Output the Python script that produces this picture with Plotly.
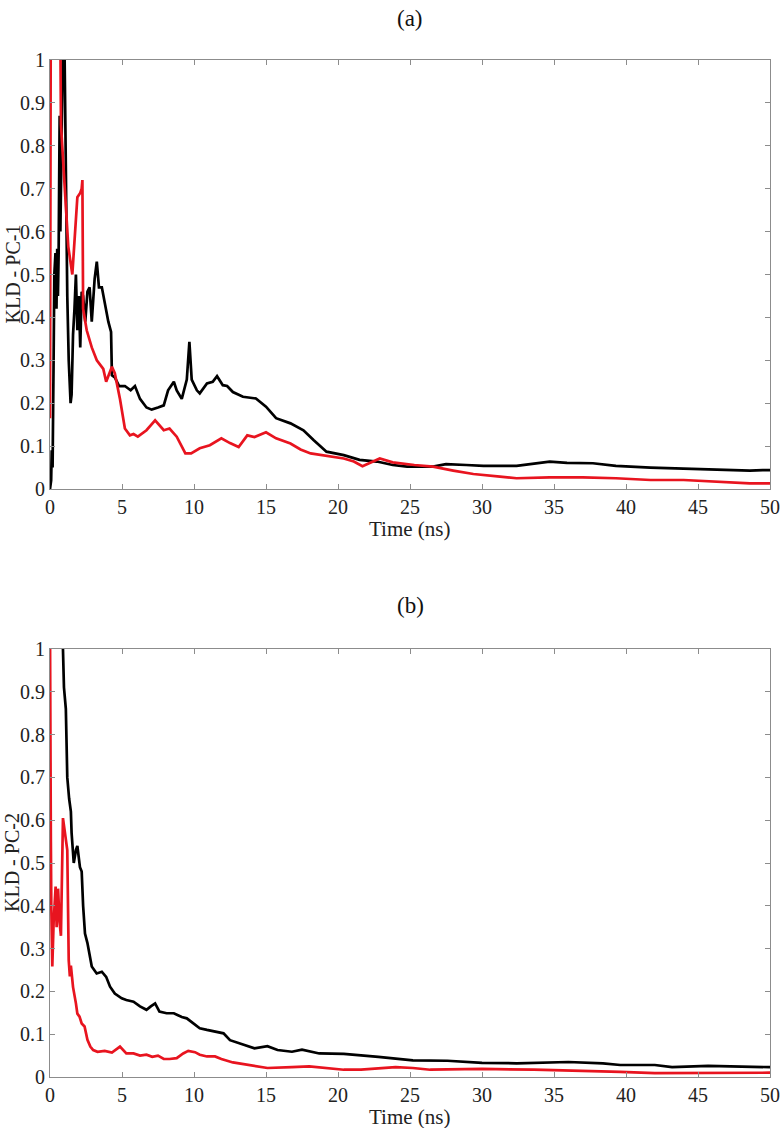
import plotly.graph_objects as go

# Panel (a): KLD - PC-1
a_black_t = [0, 0.08, 0.12, 0.18, 0.25, 0.3, 0.38, 0.45, 0.5, 0.55, 0.6, 0.67, 0.72, 0.8, 0.9, 1.0, 1.1,
             1.2, 1.3, 1.43, 1.5, 1.6, 1.7, 1.8, 1.9, 2.0, 2.1, 2.2, 2.3, 2.45, 2.6, 2.75, 2.9, 3.0, 3.1,
             3.25, 3.4, 3.6, 3.8, 4.05, 4.24, 4.3, 4.5, 4.8, 5.2, 5.6, 5.9, 6.25, 6.7, 7.06, 7.5, 7.9,
             8.2, 8.6, 8.8, 9.15, 9.5, 9.68, 9.84, 10.2, 10.4, 10.9, 11.3, 11.6, 12.0, 12.3, 12.7, 13.4,
             14.3, 15.0, 15.7, 16.7, 17.6, 18.3, 19.2, 20.4, 21.5, 22.7, 23.8, 24.8, 26.6, 27.5, 28.9,
             30.1, 31.25, 32.4, 34.7, 35.9, 37.7, 39.3, 41.7, 44.0, 46.3, 48.6, 49.5, 50]
a_black_v = [0.0, 0.02, 0.09, 0.05, 0.3, 0.5, 0.55, 0.42, 0.56, 0.45, 0.55, 0.87, 0.6, 0.8, 1.05, 1.05, 0.7,
             0.45, 0.3, 0.2, 0.22, 0.36, 0.42, 0.5, 0.37, 0.45, 0.33, 0.46, 0.45, 0.39, 0.46, 0.47, 0.39,
             0.45, 0.49, 0.53, 0.47, 0.47, 0.43, 0.39, 0.366, 0.265, 0.26, 0.24, 0.24, 0.23, 0.24, 0.21,
             0.19, 0.185, 0.19, 0.195, 0.23, 0.25, 0.23, 0.21, 0.255, 0.343, 0.255, 0.23, 0.223, 0.246,
             0.25, 0.263, 0.242, 0.24, 0.226, 0.215, 0.211, 0.192, 0.165, 0.153, 0.137, 0.114, 0.087,
             0.079, 0.068, 0.064, 0.056, 0.052, 0.052, 0.058, 0.056, 0.054, 0.054, 0.054, 0.064, 0.061,
             0.06, 0.054, 0.05, 0.048, 0.046, 0.043, 0.044, 0.044]

a_red_t = [0, 0.02, 0.05, 0.4, 0.72, 0.76, 0.85, 1.0, 1.27, 1.55, 1.7, 1.9, 2.1, 2.2, 2.25, 2.3, 2.55,
           2.9, 3.25, 3.5, 3.7, 3.9, 4.3, 4.5, 4.86, 5.2, 5.55, 5.8, 6.1, 6.7, 7.3, 7.9, 8.3, 8.8, 9.4,
           9.8, 10.4, 11.1, 11.9, 12.5, 13.1, 13.7, 14.2, 15.0, 15.7, 16.7, 17.4, 18.1, 19.0, 20.4, 21.1,
           21.7, 22.9, 23.8, 25.3, 26.6, 28.0, 29.4, 31.25, 32.4, 34.7, 37.0, 39.3, 41.7, 44.0, 46.3,
           48.6, 50]
a_red_v = [0.165, 0.5, 1.05, 1.1, 1.05, 0.85, 0.8, 0.72, 0.565, 0.5, 0.57, 0.68, 0.69, 0.7, 0.72, 0.42,
           0.37, 0.33, 0.3, 0.29, 0.28, 0.25, 0.285, 0.27, 0.21, 0.141, 0.125, 0.128, 0.122, 0.137, 0.16,
           0.137, 0.141, 0.122, 0.083, 0.083, 0.095, 0.102, 0.118, 0.107, 0.098, 0.125, 0.121, 0.132,
           0.118, 0.106, 0.092, 0.083, 0.079, 0.071, 0.064, 0.053, 0.071, 0.062, 0.056, 0.052, 0.043,
           0.035, 0.029, 0.025, 0.027, 0.027, 0.025, 0.021, 0.021, 0.017, 0.013, 0.013]

# Panel (b): KLD - PC-2
b_black_t = [0.9, 0.97, 1.1, 1.16, 1.2, 1.33, 1.45, 1.5, 1.65, 1.8, 1.9, 2.08, 2.2, 2.3, 2.43, 2.6, 2.73,
             2.9, 3.24, 3.6, 3.9, 4.17, 4.5, 4.98, 5.3, 5.8, 6.25, 6.7, 7.0, 7.3, 7.6, 8.1, 8.6, 9.15,
             9.5, 9.95, 10.4, 10.9, 11.6, 12.05, 12.5, 13.2, 14.2, 15.1, 15.8, 16.8, 17.5, 18.7, 20.4,
             22.8, 25.2, 27.6, 30.0, 32.4, 36.0, 38.4, 39.6, 42.0, 43.2, 45.7, 48.1, 50]
b_black_v = [1.0, 0.91, 0.86, 0.78, 0.7, 0.65, 0.62, 0.57, 0.5, 0.53, 0.54, 0.49, 0.48, 0.40, 0.335,
             0.313, 0.29, 0.258, 0.242, 0.246, 0.234, 0.211, 0.195, 0.184, 0.18, 0.176, 0.165, 0.157,
             0.165, 0.172, 0.153, 0.149, 0.149, 0.14, 0.137, 0.125, 0.114, 0.11, 0.106, 0.102, 0.086,
             0.078, 0.067, 0.072, 0.063, 0.059, 0.064, 0.055, 0.054, 0.047, 0.039, 0.038, 0.033, 0.032,
             0.035, 0.032, 0.028, 0.028, 0.023, 0.026, 0.025, 0.023]

b_red_t = [0, 0.02, 0.04, 0.06, 0.09, 0.16, 0.25, 0.39, 0.46, 0.56, 0.67, 0.76, 0.9, 1.1, 1.2, 1.3,
           1.38, 1.45, 1.6, 1.8, 1.9, 2.05, 2.2, 2.4, 2.6, 2.8, 3.0, 3.3, 3.8, 4.3, 4.86, 5.3, 5.8,
           6.25, 6.7, 7.1, 7.5, 7.9, 8.3, 8.8, 9.25, 9.6, 10.07, 10.4, 10.9, 11.46, 11.9, 12.7, 13.7,
           14.6, 15.1, 16.8, 18.0, 20.4, 21.6, 24.0, 25.2, 26.4, 30.0, 33.6, 37.2, 39.6, 42.0, 45.7, 50]
b_red_v = [1.05, 0.69, 0.647, 0.55, 0.4, 0.258, 0.36, 0.445, 0.35, 0.44, 0.36, 0.33, 0.605, 0.558,
           0.53, 0.273, 0.235, 0.26, 0.21, 0.172, 0.148, 0.141, 0.125, 0.118, 0.087, 0.071, 0.063,
           0.059, 0.061, 0.057, 0.071, 0.055, 0.055, 0.05, 0.052, 0.047, 0.05, 0.042, 0.042, 0.044,
           0.055, 0.061, 0.058, 0.052, 0.048, 0.048, 0.042, 0.034, 0.029, 0.024, 0.021, 0.023, 0.025,
           0.017, 0.017, 0.023, 0.021, 0.017, 0.019, 0.017, 0.015, 0.012, 0.009, 0.009, 0.01]

x_ticks = [0, 5, 10, 15, 20, 25, 30, 35, 40, 45, 50]
y_ticks = [0, 0.1, 0.2, 0.3, 0.4, 0.5, 0.6, 0.7, 0.8, 0.9, 1]
y_tick_labels = ["0", "0.1", "0.2", "0.3", "0.4", "0.5", "0.6", "0.7", "0.8", "0.9", "1"]
panel_titles = ["(a)", "(b)"]
y_titles = ["KLD - PC-1", "KLD - PC-2"]
x_title = "Time (ns)"

BLACK = "#000000"
RED = "#e8141f"
FONT = "Liberation Serif"
TXT = "#222222"

fig = go.Figure()
for xs, ys, col, xa_, ya_ in [(a_black_t, a_black_v, BLACK, "x", "y"),
                               (a_red_t, a_red_v, RED, "x", "y"),
                               (b_black_t, b_black_v, BLACK, "x2", "y2"),
                               (b_red_t, b_red_v, RED, "x2", "y2")]:
    fig.add_trace(go.Scatter(x=xs, y=ys, mode="lines", line=dict(color=col, width=2.7),
                             xaxis=xa_, yaxis=ya_, showlegend=False, hoverinfo="skip"))

axis_common = dict(showgrid=False, zeroline=False, showline=True, linecolor="#8c8c8c", linewidth=1,
                   mirror="ticks", ticks="inside", ticklen=5, tickcolor="#8c8c8c", automargin=False,
                   tickfont=dict(family=FONT, size=20, color=TXT))

xa = dict(axis_common, range=[0, 50], tickvals=x_ticks, ticktext=[str(v) for v in x_ticks])
ya = dict(axis_common, range=[0, 1], tickvals=y_ticks, ticktext=y_tick_labels)

# positions in image pixels: plot top 60, bottom 1077, left 50, right 770
def py(pix):
    return (1077 - pix) / 1017.0

def px(pix):
    return (pix - 50) / 720.0

annotations = [
    dict(text=panel_titles[0], x=0.5, y=py(18), font=dict(family=FONT, size=23, color="#111")),
    dict(text=panel_titles[1], x=0.5, y=py(605), font=dict(family=FONT, size=23, color="#111")),
    dict(text=x_title, x=0.5, y=py(529), font=dict(family=FONT, size=21, color=TXT)),
    dict(text=x_title, x=0.5, y=py(1117), font=dict(family=FONT, size=21, color=TXT)),
    dict(text=y_titles[0], x=px(12), y=py(274.5), textangle=-90, font=dict(family=FONT, size=20, color=TXT)),
    dict(text=y_titles[1], x=px(12), y=py(863), textangle=-90, font=dict(family=FONT, size=20, color=TXT)),
]
for an in annotations:
    an.update(xref="paper", yref="paper", showarrow=False, xanchor="center", yanchor="middle")

fig.update_layout(
    width=783, height=1128,
    margin=dict(l=50, r=13, t=60, b=51, autoexpand=False),
    paper_bgcolor="white", plot_bgcolor="white",
    xaxis=dict(xa, domain=[0, 1], anchor="y"),
    yaxis=dict(ya, domain=[py(489), 1], anchor="x"),
    xaxis2=dict(xa, domain=[0, 1], anchor="y2"),
    yaxis2=dict(ya, domain=[0, py(649)], anchor="x2"),
    annotations=annotations,
)

# remove the default page margin so the figure fills the window exactly
fig.write_html("out.html", config={"displayModeBar": False},
               post_script="document.body.style.margin='0px';document.body.style.overflow='hidden';")
